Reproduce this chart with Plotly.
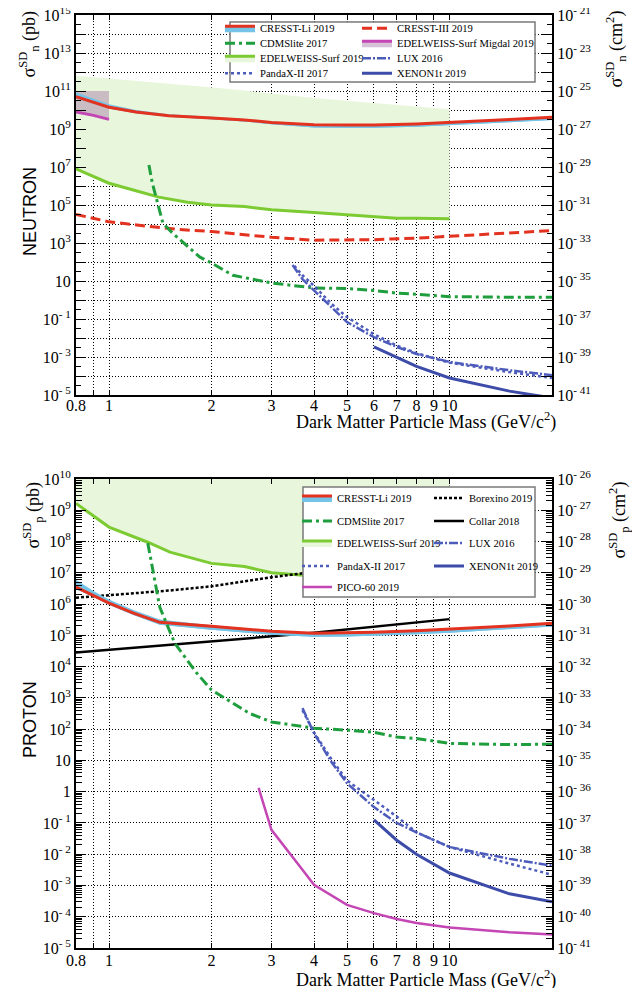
import plotly.graph_objects as go

OFF = 8              # the page body adds an 8 px margin around the figure
W, H = 640 - 2 * OFF, 996 - 2 * OFF

# ======================= DATA : NEUTRON (pb) =======================
edw_n_mass = [0.8, 1.0, 1.2, 1.4, 1.7, 2.0, 2.5, 3.0, 4.0, 5.0, 6.0, 7.0, 8.0, 10.0]
edw_n_limit = [8e6, 1.4e6, 5.6e5, 2.6e5, 1.4e5, 1.0e5, 8.3e4, 5.6e4, 4.0e4, 3.0e4, 2.3e4, 2.0e4, 2.0e4, 1.9e4]
edw_n_top_mass = [0.8, 2.1, 4.15, 10.0]
edw_n_top = [6.3e11, 1.45e11, 4.0e10, 1.1e10]

migdal_n_mass = [0.8, 0.9, 1.0]
migdal_n_limit = [7.9e9, 5.2e9, 3.2e9]
migdal_n_top = [1e11, 1e11, 1e11]

li_n_mass = [0.8, 0.9, 1.0, 1.2, 1.5, 2.0, 2.5, 3.0, 4.0, 5.0, 6.0, 8.0, 10.0, 15.0, 20.0]
li_n_limit = [5.0e10, 2.6e10, 1.4e10, 7.9e9, 5.0e9, 3.8e9, 3.0e9, 2.2e9, 1.66e9, 1.6e9, 1.6e9, 1.86e9, 2.2e9, 3.2e9, 4.2e9]
li_n_hi = [8.5e10, 4.0e10, 2.0e10, 1.0e10, 6.0e9, 4.4e9, 3.4e9, 2.5e9, 1.8e9, 1.7e9, 1.7e9, 1.95e9, 2.3e9, 3.3e9, 4.3e9]
li_n_lo = [4.2e10, 2.2e10, 1.2e10, 6.8e9, 4.4e9, 3.3e9, 2.5e9, 1.8e9, 1.2e9, 1.15e9, 1.15e9, 1.3e9, 1.55e9, 2.3e9, 3.0e9]

c3_n_mass = [0.8, 1.0, 1.3, 1.6, 2.0, 2.5, 3.0, 4.0, 5.0, 6.0, 8.0, 10.0, 15.0, 20.0]
c3_n_limit = [3.2e4, 1.3e4, 7.6e3, 5.2e3, 4.0e3, 2.8e3, 2.0e3, 1.4e3, 1.4e3, 1.5e3, 1.8e3, 2.2e3, 3.2e3, 4.5e3]

cdms_n_mass = [1.31, 1.34, 1.44, 1.54, 1.85, 2.0, 2.31, 3.0, 4.0, 5.0, 6.0, 7.0, 8.0, 10.0, 15.0, 20.0]
cdms_n_limit = [1.26e7, 1.45e6, 1.1e4, 3.2e3, 1.8e2, 89, 20, 7.9, 4.3, 4.0, 3.2, 2.3, 2.0, 1.5, 1.4, 1.4]

lux_n_mass = [3.46, 3.7, 4.0, 4.5, 5.0, 6.0, 7.0, 8.0, 10.0, 15.0, 20.0]
lux_n_limit = [69, 12.6, 3.2, 0.4, 0.069, 0.011, 3.4e-3, 1.45e-3, 5.5e-4, 2.0e-4, 1.1e-4]

pandax_n_mass = [3.5, 3.7, 4.0, 4.5, 5.0, 6.0, 7.0, 8.0, 10.0, 15.0, 20.0]
pandax_n_limit = [63, 20, 5.6, 0.63, 0.126, 0.0158, 4.0e-3, 1.6e-3, 5.0e-4, 1.6e-4, 7.9e-5]

xenon_n_mass = [6.0, 7.0, 8.0, 10.0, 15.0, 20.0]
xenon_n_limit = [3.4e-3, 1.0e-3, 3.2e-4, 7.9e-5, 1.6e-5, 7e-6]

# ======================= DATA : PROTON (pb) =======================
edw_p_mass = [0.8, 1.0, 1.3, 1.51, 2.0, 2.5, 3.0, 3.7, 4.5, 6.0, 8.0, 10.0]
edw_p_limit = [1.66e9, 2.9e8, 9.5e7, 4.6e7, 2.0e7, 1.6e7, 1.0e7, 8.3e6, 7.0e6, 5.6e6, 5.0e6, 4.8e6]
edw_p_top_mass = [0.8, 2.0, 4.0, 10.0]
edw_p_top = [1.3e14, 3.0e13, 8.0e12, 2.0e12]

li_p_mass = [0.8, 0.9, 1.0, 1.18, 1.41, 2.0, 3.0, 4.0, 5.0, 6.0, 8.0, 10.0, 15.0, 20.0]
li_p_limit = [3.5e6, 1.9e6, 1.07e6, 5.1e5, 2.6e5, 1.95e5, 1.35e5, 1.17e5, 1.2e5, 1.26e5, 1.41e5, 1.58e5, 2.0e5, 2.45e5]
li_p_hi = [6.0e6, 2.6e6, 1.4e6, 6.5e5, 3.2e5, 2.1e5, 1.42e5, 1.22e5, 1.25e5, 1.3e5, 1.45e5, 1.62e5, 2.05e5, 2.5e5]
li_p_lo = [3.0e6, 1.7e6, 9.5e5, 4.5e5, 2.2e5, 1.5e5, 1.05e5, 9.0e4, 9.2e4, 9.7e4, 1.08e5, 1.22e5, 1.55e5, 1.9e5]

borex_p_mass = [0.8, 1.0, 1.5, 2.0, 3.0, 4.0, 5.0]
borex_p_limit = [1.6e6, 1.9e6, 2.7e6, 3.7e6, 7.2e6, 1.07e7, 1.6e7]

collar_p_mass = [0.8, 2.0, 4.0, 10.0]
collar_p_limit = [2.8e4, 6.6e4, 1.2e5, 3.3e5]

cdms_p_mass = [1.30, 1.41, 1.56, 1.81, 2.0, 2.59, 3.0, 4.0, 5.0, 6.0, 7.0, 8.0, 10.0, 15.0, 20.0]
cdms_p_limit = [8.9e7, 7.9e5, 5.6e4, 6.2e3, 1.8e3, 316, 170, 107, 93, 79, 56, 50, 35, 32, 33]

lux_p_mass = [3.7, 4.0, 4.5, 5.0, 6.0, 7.0, 8.0, 10.0, 15.0, 20.0]
lux_p_limit = [470, 74, 8.9, 1.86, 0.32, 0.1, 0.05, 0.017, 7.1e-3, 4.3e-3]

pandax_p_mass = [3.7, 4.0, 4.5, 5.0, 6.0, 7.0, 8.0, 10.0, 15.0, 20.0]
pandax_p_limit = [400, 79, 11, 2.3, 0.54, 0.16, 0.05, 0.017, 5.0e-3, 2.2e-3]

xenon_p_mass = [6.0, 7.0, 8.0, 10.0, 15.0, 20.0]
xenon_p_limit = [0.126, 0.028, 0.01, 2.5e-3, 5.4e-4, 3.0e-4]

pico_p_mass = [2.75, 3.0, 3.7, 4.0, 5.0, 6.0, 7.0, 8.0, 10.0, 15.0, 20.0]
pico_p_limit = [1.32, 0.06, 3.2e-3, 1.05e-3, 2.4e-4, 1.3e-4, 8.5e-5, 6.3e-5, 4.5e-5, 3.2e-5, 2.7e-5]

# ======================= TICKS =======================
x_tick_vals = [0.8, 0.9, 1, 2, 3, 4, 5, 6, 7, 8, 9, 10]
x_tick_text = ['0.8', '', '1', '2', '3', '4', '5', '6', '7', '8', '9', '10']

n_left_exp = list(range(-5, 16))
n_left_text = ['10<sup>- 5</sup>', '', '10<sup>- 3</sup>', '', '10<sup>- 1</sup>', '', '10', '',
               '10<sup>3</sup>', '', '10<sup>5</sup>', '', '10<sup>7</sup>', '', '10<sup>9</sup>', '',
               '10<sup>11</sup>', '', '10<sup>13</sup>', '', '10<sup>15</sup>']
n_right_exp = list(range(-41, -20))
n_right_text = ['10<sup>- 41</sup>', '', '10<sup>- 39</sup>', '', '10<sup>- 37</sup>', '', '10<sup>- 35</sup>', '',
                '10<sup>- 33</sup>', '', '10<sup>- 31</sup>', '', '10<sup>- 29</sup>', '', '10<sup>- 27</sup>', '',
                '10<sup>- 25</sup>', '', '10<sup>- 23</sup>', '', '10<sup>- 21</sup>']
p_left_exp = list(range(-5, 11))
p_left_text = ['10<sup>- 5</sup>', '10<sup>- 4</sup>', '10<sup>- 3</sup>', '10<sup>- 2</sup>', '10<sup>- 1</sup>',
               '1', '10', '10<sup>2</sup>', '10<sup>3</sup>', '10<sup>4</sup>', '10<sup>5</sup>', '10<sup>6</sup>',
               '10<sup>7</sup>', '10<sup>8</sup>', '10<sup>9</sup>', '10<sup>10</sup>']
p_right_exp = list(range(-41, -25))
p_right_text = ['10<sup>- 41</sup>', '10<sup>- 40</sup>', '10<sup>- 39</sup>', '10<sup>- 38</sup>', '10<sup>- 37</sup>',
                '10<sup>- 36</sup>', '10<sup>- 35</sup>', '10<sup>- 34</sup>', '10<sup>- 33</sup>', '10<sup>- 32</sup>',
                '10<sup>- 31</sup>', '10<sup>- 30</sup>', '10<sup>- 29</sup>', '10<sup>- 28</sup>', '10<sup>- 27</sup>',
                '10<sup>- 26</sup>']

# ======================= STYLE =======================
RED = '#e3321f'
SKY = '#74c4e8'
GREEN_D = '#1e9e3c'
EDW_LINE = '#7dcb33'
EDW_FILL = '#e8f6dc'
BLUE = '#3d4ca9'
BLUE2 = '#4d5cbb'
MAG = '#c446b4'
MIG_FILL = 'rgba(165,120,165,0.45)'
SERIF = 'Liberation Serif'
SANS = 'Liberation Sans'


def xp(px):
    return (px - OFF) / W


def yp(py):
    return 1 - (py - OFF) / H


fig = go.Figure()


def add(x, y, xa, ya, name=None, legend=None, color='black', width=3, dash='solid', fill=None, fillcolor=None):
    fig.add_trace(go.Scatter(
        x=x, y=y, xaxis=xa, yaxis=ya, mode='lines', name=name,
        line=dict(color=color, width=width, dash=dash),
        fill=fill, fillcolor=fillcolor,
        showlegend=name is not None, legend=legend, hoverinfo='skip'))


# ---------------- NEUTRON panel ----------------
add(edw_n_top_mass, edw_n_top, 'x', 'y', color=EDW_FILL, width=0)
add(edw_n_mass, edw_n_limit, 'x', 'y', 'EDELWEISS-Surf 2019', 'legend5', EDW_LINE, 3, fill='tonexty',
    fillcolor=EDW_FILL)
add(migdal_n_mass, migdal_n_top, 'x', 'y', color=MIG_FILL, width=0)
add(migdal_n_mass, migdal_n_limit, 'x', 'y', 'EDELWEISS-Surf Migdal 2019', 'legend4', MAG, 3, fill='tonexty',
    fillcolor=MIG_FILL)
add(li_n_mass, li_n_hi, 'x', 'y', color=SKY, width=0)
add(li_n_mass, li_n_lo, 'x', 'y', color=SKY, width=0, fill='tonexty', fillcolor=SKY)
add(li_n_mass, li_n_limit, 'x', 'y', 'CRESST-Li 2019', 'legend', RED, 3, fill='tonexty', fillcolor=SKY)
add(c3_n_mass, c3_n_limit, 'x', 'y', 'CRESST-III 2019', 'legend2', RED, 3, dash='10px,5px')
add(cdms_n_mass, cdms_n_limit, 'x', 'y', 'CDMSlite 2017', 'legend3', GREEN_D, 3, dash='10px,4px,3px,4px')
add(pandax_n_mass, pandax_n_limit, 'x', 'y', 'PandaX-II 2017', 'legend7', BLUE2, 2.5, dash='3px,3px')
add(lux_n_mass, lux_n_limit, 'x', 'y', 'LUX 2016', 'legend6', BLUE2, 2.5, dash='9px,2px,2px,2px')
add(xenon_n_mass, xenon_n_limit, 'x', 'y', 'XENON1t 2019', 'legend8', BLUE, 3)

# ---------------- PROTON panel ----------------
add(edw_p_top_mass, edw_p_top, 'x2', 'y3', color=EDW_FILL, width=0)
add(edw_p_mass, edw_p_limit, 'x2', 'y3', 'EDELWEISS-Surf 2019', 'legend13', EDW_LINE, 3, fill='tonexty',
    fillcolor=EDW_FILL)
add(borex_p_mass, borex_p_limit, 'x2', 'y3', 'Borexino 2019', 'legend10', 'black', 2.5, dash='3px,2px')
add(collar_p_mass, collar_p_limit, 'x2', 'y3', 'Collar 2018', 'legend12', 'black', 2.5)
add(li_p_mass, li_p_hi, 'x2', 'y3', color=SKY, width=0)
add(li_p_mass, li_p_lo, 'x2', 'y3', color=SKY, width=0, fill='tonexty', fillcolor=SKY)
add(li_p_mass, li_p_limit, 'x2', 'y3', 'CRESST-Li 2019', 'legend9', RED, 3, fill='tonexty', fillcolor=SKY)
add(cdms_p_mass, cdms_p_limit, 'x2', 'y3', 'CDMSlite 2017', 'legend11', GREEN_D, 3, dash='10px,4px,3px,4px')
add(pandax_p_mass, pandax_p_limit, 'x2', 'y3', 'PandaX-II 2017', 'legend15', BLUE2, 2.5, dash='3px,3px')
add(lux_p_mass, lux_p_limit, 'x2', 'y3', 'LUX 2016', 'legend14', BLUE2, 2.5, dash='9px,2px,2px,2px')
add(xenon_p_mass, xenon_p_limit, 'x2', 'y3', 'XENON1t 2019', 'legend16', BLUE, 3)
add(pico_p_mass, pico_p_limit, 'x2', 'y3', 'PICO-60 2019', 'legend17', MAG, 2.5)

# empty traces that only register the right-hand (cm^2) axes
fig.add_trace(go.Scatter(x=[], y=[], xaxis='x', yaxis='y2', showlegend=False, hoverinfo='skip'))
fig.add_trace(go.Scatter(x=[], y=[], xaxis='x2', yaxis='y4', showlegend=False, hoverinfo='skip'))

# ======================= AXES =======================
X0, X1 = 76, 552
TOP0, TOP1 = 15, 395
BOT0, BOT1 = 479, 948
tickfont = dict(family=SERIF, size=16, color='black')
grid = dict(showgrid=True, gridcolor='black', gridwidth=1, griddash='1px,2px')


def xaxis_def(anchor, standoff):
    return dict(domain=[xp(X0), xp(X1)], anchor=anchor, type='log', range=[-0.09691, 1.30103],
                tickmode='array', tickvals=x_tick_vals, ticktext=x_tick_text, ticks='inside', ticklen=5,
                tickwidth=1, tickcolor='black', showline=True, linewidth=2, linecolor='black', mirror='ticks',
                tickfont=tickfont, zeroline=False, automargin=False, ticklabelstandoff=standoff, **grid)


def yaxis_def(domain, exps, texts, anchor, minor_vals, minor_len, side='left', overlaying=None):
    d = dict(type='log', range=[exps[0], exps[-1]], anchor=anchor, side=side,
             tickmode='array', tickvals=[10.0 ** k for k in exps], ticktext=texts,
             ticks='inside', ticklen=10, tickwidth=1, tickcolor='black', showline=True, linewidth=2,
             linecolor='black', tickfont=tickfont, zeroline=False, automargin=False,
             ticklabeloverflow='allow',
             minor=dict(tickmode='array', tickvals=minor_vals, ticks='inside', ticklen=minor_len,
                        tickcolor='black', tickwidth=1, showgrid=False))
    if overlaying:
        d['overlaying'] = overlaying
        d['showgrid'] = False
    else:
        d['domain'] = domain
        d.update(grid)
    return d


n_minor = [3.16 * 10.0 ** k for k in range(-5, 15)]
n_minor_r = [3.16 * 10.0 ** k for k in range(-41, -21)]
p_minor = [m * 10.0 ** k for k in range(-5, 10) for m in range(2, 10)]
p_minor_r = [m * 10.0 ** k for k in range(-41, -26) for m in range(2, 10)]

fig.update_layout(
    xaxis=xaxis_def('y', -5),
    yaxis=yaxis_def([yp(TOP1), yp(TOP0)], n_left_exp, n_left_text, 'x', n_minor, 5),
    yaxis2=yaxis_def(None, n_right_exp, n_right_text, 'x', n_minor_r, 5, side='right', overlaying='y'),
    xaxis2=xaxis_def('y3', -3),
    yaxis3=yaxis_def([yp(BOT1), yp(BOT0)], p_left_exp, p_left_text, 'x2', p_minor, 6),
    yaxis4=yaxis_def(None, p_right_exp, p_right_text, 'x2', p_minor_r, 6, side='right', overlaying='y3'),
)

# ======================= LEGENDS (one entry each, placed like the reference boxes) =======================
leg_font = dict(family=SERIF, size=10.6, color='black')
legend_slots = {
    'legend': (220, 28.3), 'legend2': (357, 28.3),
    'legend3': (220, 43.3), 'legend4': (357, 43.3),
    'legend5': (220, 58.3), 'legend6': (357, 58.3),
    'legend7': (220, 73.3), 'legend8': (357, 73.3),
    'legend9': (297, 498), 'legend10': (429, 498),
    'legend11': (297, 521), 'legend12': (429, 521),
    'legend13': (297, 543), 'legend14': (429, 543),
    'legend15': (297, 566), 'legend16': (429, 566),
    'legend17': (297, 587),
}
fig.update_layout(**{
    key: dict(x=xp(px), y=yp(py), xanchor='left', yanchor='middle', itemwidth=30,
              bgcolor='rgba(0,0,0,0)', borderwidth=0, font=leg_font)
    for key, (px, py) in legend_slots.items()
})

shapes = [
    dict(type='rect', xref='paper', yref='paper', x0=xp(230), x1=xp(535), y0=yp(82), y1=yp(22),
         fillcolor='white', line=dict(color='#7a7a7a', width=1.5), layer='above'),
    dict(type='rect', xref='paper', yref='paper', x0=xp(303), x1=xp(535), y0=yp(597), y1=yp(487),
         fillcolor='white', line=dict(color='#7a7a7a', width=1.5), layer='above'),
]

# ======================= TITLES =======================
title_font = dict(family=SERIF, size=18, color='black')
ann = [
    dict(text='Dark Matter Particle Mass (GeV/c<sup>2</sup>)', x=xp(558), y=yp(421), xanchor='right',
         yanchor='middle', font=title_font),
    dict(text='Dark Matter Particle Mass (GeV/c<sup>2</sup>)', x=xp(558), y=yp(979), xanchor='right',
         yanchor='middle', font=title_font),
    dict(text='σ<sup>SD</sup><sub>n</sub> (pb)', x=xp(29), y=yp(9), xanchor='center', yanchor='top',
         textangle=-90, font=title_font),
    dict(text='σ<sup>SD</sup><sub>n</sub> (cm<sup>2</sup>)', x=xp(616), y=yp(9), xanchor='center',
         yanchor='top', textangle=-90, font=title_font),
    dict(text='σ<sup>SD</sup><sub>p</sub> (pb)', x=xp(33), y=yp(480), xanchor='center', yanchor='top',
         textangle=-90, font=title_font),
    dict(text='σ<sup>SD</sup><sub>p</sub> (cm<sup>2</sup>)', x=xp(619), y=yp(480), xanchor='center',
         yanchor='top', textangle=-90, font=title_font),
    dict(text='NEUTRON', x=xp(30), y=yp(212), xanchor='center', yanchor='middle', textangle=-90,
         font=dict(family=SANS, size=18, color='black')),
    dict(text='PROTON', x=xp(30), y=yp(720), xanchor='center', yanchor='middle', textangle=-90,
         font=dict(family=SANS, size=18, color='black')),
]
for a in ann:
    a.update(xref='paper', yref='paper', showarrow=False)

fig.update_layout(
    width=W, height=H, margin=dict(l=0, r=0, t=0, b=0, pad=0, autoexpand=False),
    paper_bgcolor='white', plot_bgcolor='white',
    shapes=shapes, annotations=ann, hovermode=False,
    font=dict(family=SERIF, color='black'),
)

fig.write_html('out.html')
